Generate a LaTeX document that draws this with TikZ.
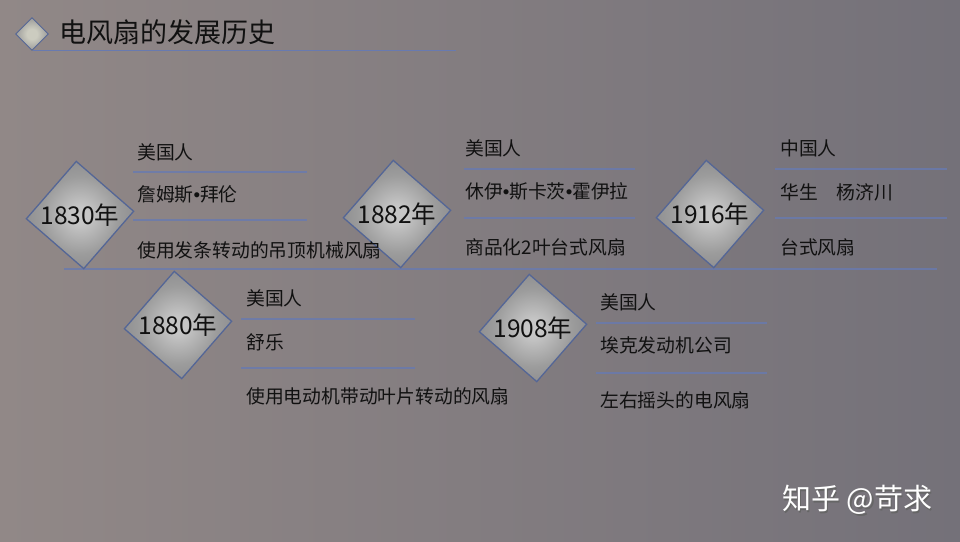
\documentclass[tikz,border=0pt]{standalone}
\usepackage{fontspec}
\setmainfont{Noto Sans CJK SC}
\newfontfamily\punktschrift{Liberation Sans}
\newcommand{\punkt}{{\punktschrift •}}

\definecolor{bgleft}{RGB}{145,136,135}
\definecolor{bgright}{RGB}{116,113,121}
\definecolor{linie}{RGB}{104,122,176}
\definecolor{rand}{RGB}{84,102,150}
\definecolor{rautemitte}{RGB}{198,198,198}
\definecolor{rautemittel}{RGB}{156,156,156}
\definecolor{rautekante}{RGB}{128,128,132}
\definecolor{symbolmitte}{RGB}{204,204,192}
\definecolor{textfarbe}{RGB}{17,17,17}
\pgfdeclareradialshading{rautenfuellung}{\pgfpoint{0bp}{0bp}}{color(0bp)=(rautemitte); color(4bp)=(rautemitte); color(18bp)=(rautemittel); color(35bp)=(rautekante); color(50bp)=(rautekante)}
\pgfdeclareradialshading{symbolfuellung}{\pgfpoint{0bp}{0bp}}{color(0bp)=(symbolmitte); color(8bp)=(symbolmitte); color(35bp)=(rautekante); color(50bp)=(rautekante)}

\begin{document}
\begin{tikzpicture}[x=1pt, y=-1pt,
    raute/.style={draw=rand, line width=1.3pt, shading=rautenfuellung, minimum size=76pt, inner sep=0pt, rotate=49},
    jahr/.style={text=textfarbe, font=\fontsize{24.5}{28}\selectfont, inner sep=0pt},
    eintrag/.style={anchor=west, text=textfarbe, font=\fontsize{18.8}{22}\selectfont, inner sep=0pt},
    trenner/.style={linie, line width=1.8pt, opacity=0.8}]
    % Hintergrund mit Verlauf
    \shade[left color=bgleft, right color=bgright] (0,0) rectangle (960,541);
    \useasboundingbox (0,0) rectangle (960,541);

    % Titel mit kleiner Raute
    \draw[linie, line width=1pt] (33,50) -- (456,50);
    \node[draw=rand, line width=1pt, shading=symbolfuellung, minimum size=23pt, inner sep=0pt, rotate=45] (symbol) at (32,34) {};
    \node[anchor=west, inner sep=0pt, text=textfarbe, font=\fontsize{27}{30}\selectfont] (titel) at (59,32) {电风扇的发展历史};

    % Zeitachse
    \draw[trenner, line width=2pt] (64,269) -- (937,269);

    % Trennlinien
    \draw[trenner] (133,172) -- (307,172);
    \draw[trenner] (133,220) -- (307,220);
    \draw[trenner] (464,169) -- (635,169);
    \draw[trenner] (464,218) -- (635,218);
    \draw[trenner] (775,169) -- (947,169);
    \draw[trenner] (775,218) -- (947,218);
    \draw[trenner] (241,319) -- (415,319);
    \draw[trenner] (241,368) -- (415,368);
    \draw[trenner] (596,323) -- (767,323);
    \draw[trenner] (596,373) -- (767,373);

    % Rauten mit Jahreszahlen
    \node[raute] (r1830) at (80,215) {};
    \node[raute] (r1882) at (397,214) {};
    \node[raute] (r1916) at (710,214) {};
    \node[raute] (r1880) at (178,325) {};
    \node[raute] (r1908) at (533,328) {};
    \node[jahr] (j1830) at (r1830) {1830年};
    \node[jahr] (j1882) at (r1882) {1882年};
    \node[jahr] (j1916) at (r1916) {1916年};
    \node[jahr] (j1880) at (r1880) {1880年};
    \node[jahr] (j1908) at (r1908) {1908年};

    % Angaben zu 1830
    \node[eintrag] (a1830) at (137,152) {美国人};
    \node[eintrag] (b1830) at (137,194) {詹姆斯\punkt 拜伦};
    \node[eintrag] (c1830) at (137,250) {使用发条转动的吊顶机械风扇};

    % Angaben zu 1882
    \node[eintrag] (a1882) at (465,148) {美国人};
    \node[eintrag] (b1882) at (465,191) {休伊\punkt 斯卡茨\punkt 霍伊拉};
    \node[eintrag] (c1882) at (465,247) {商品化2叶台式风扇};

    % Angaben zu 1916
    \node[eintrag] (a1916) at (780,148) {中国人};
    \node[eintrag] (b1916) at (780,192) {华生　杨济川};
    \node[eintrag] (c1916) at (780,247) {台式风扇};

    % Angaben zu 1880
    \node[eintrag] (a1880) at (246,298) {美国人};
    \node[eintrag] (b1880) at (246,342) {舒乐};
    \node[eintrag] (c1880) at (246,396) {使用电动机带动叶片转动的风扇};

    % Angaben zu 1908
    \node[eintrag] (a1908) at (600,302) {美国人};
    \node[eintrag] (b1908) at (600,345) {埃克发动机公司};
    \node[eintrag] (c1908) at (600,400) {左右摇头的电风扇};

    % Wasserzeichen
    \node[anchor=west, inner sep=0pt, text=black!60, font=\fontsize{29}{32}\selectfont] (schatten) at (783.5,501.5) {知乎 @苛求};
    \node[anchor=west, inner sep=0pt, text=white, font=\fontsize{29}{32}\selectfont] (marke) at (782,500) {知乎 @苛求};
\end{tikzpicture}
\end{document}
